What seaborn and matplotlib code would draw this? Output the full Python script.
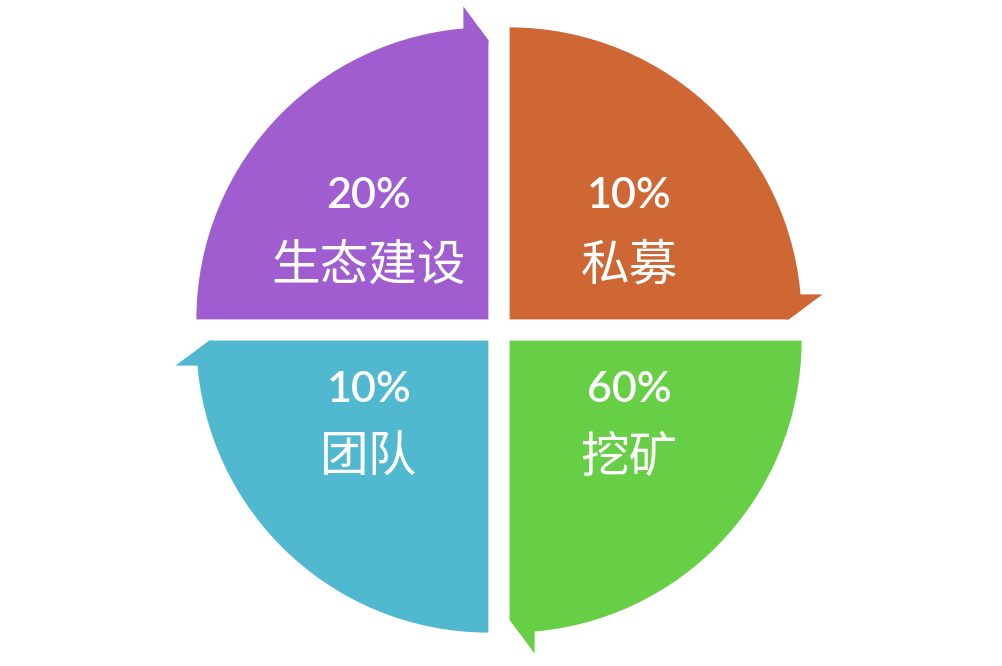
import numpy as np
import matplotlib
matplotlib.use('Agg')
import matplotlib.pyplot as plt
from matplotlib.patches import Polygon
import seaborn as sns

# quadrants, clockwise from top-left
labels = ['生态建设', '私募', '挖矿', '团队']
percents = [20, 10, 60, 10]
shares = [25, 25, 25, 25]          # every slice is drawn as a quarter
colors = ['#A05DD0', '#CE6734', '#66CF45', '#50B9D0']

sns.set_style('white')
plt.rcParams['font.family'] = ['Noto Sans CJK SC', 'DejaVu Sans']

CX, CY = 499, 336      # centre of the circle
R = 292                # radius
GAP = 15               # explode distance

fig = plt.figure(figsize=(10.02, 6.66), dpi=100)
ax = fig.add_axes([0, 0, 1, 1])

wedges, _ = ax.pie(shares, colors=colors, startangle=180, counterclock=False,
                   radius=R, center=(CX, CY), explode=[GAP] * len(shares),
                   wedgeprops=dict(linewidth=0))

# arrow heads at the clockwise end of every quarter
BACK, BARB, TIP = 25, 21, 13
for w, col in zip(wedges, colors):
    c = np.array(w.center)
    phi = np.radians(w.theta1)
    a = np.array([np.cos(phi), np.sin(phi)])
    b = np.array([-np.sin(phi), np.cos(phi)])
    P = lambda s, t: c + s * a + t * b
    cut = [P(R + BARB, BACK), P(R - TIP, 0), P(R - TIP, -3), P(R + 40, -3), P(R + 40, BACK)]
    ax.add_patch(Polygon(cut, closed=True, facecolor='white', linewidth=0, zorder=2))
    head = [P(np.sqrt(R**2 - BACK**2) - 4, BACK), P(R + BARB, BACK), P(R - TIP, 0), P(R - TIP - 4, 0)]
    ax.add_patch(Polygon(head, closed=True, facecolor=col, linewidth=0, zorder=3))

# texts
for w, lab, pct in zip(wedges, labels, percents):
    mid = np.radians((w.theta1 + w.theta2) / 2)
    sx, sy = np.sign(np.cos(mid)), np.sign(np.sin(mid))
    x = CX + sx * 130
    if sy > 0:
        y_pct, y_lab = CY + 134, CY + 64
    else:
        y_pct, y_lab = CY - 60, CY - 128
    ax.text(x, y_pct, f'{pct}%', color='white', fontsize=31, ha='center', va='center',
            family=['Lato', 'Roboto', 'DejaVu Sans'], fontweight='semibold', zorder=4)
    ax.text(x, y_lab, lab, color='white', fontsize=35, ha='center', va='center', zorder=4)

ax.set_xlim(0, 1002)
ax.set_ylim(0, 666)
ax.set_aspect('equal')
ax.axis('off')

fig.savefig('out.png', dpi=100, facecolor='white')
